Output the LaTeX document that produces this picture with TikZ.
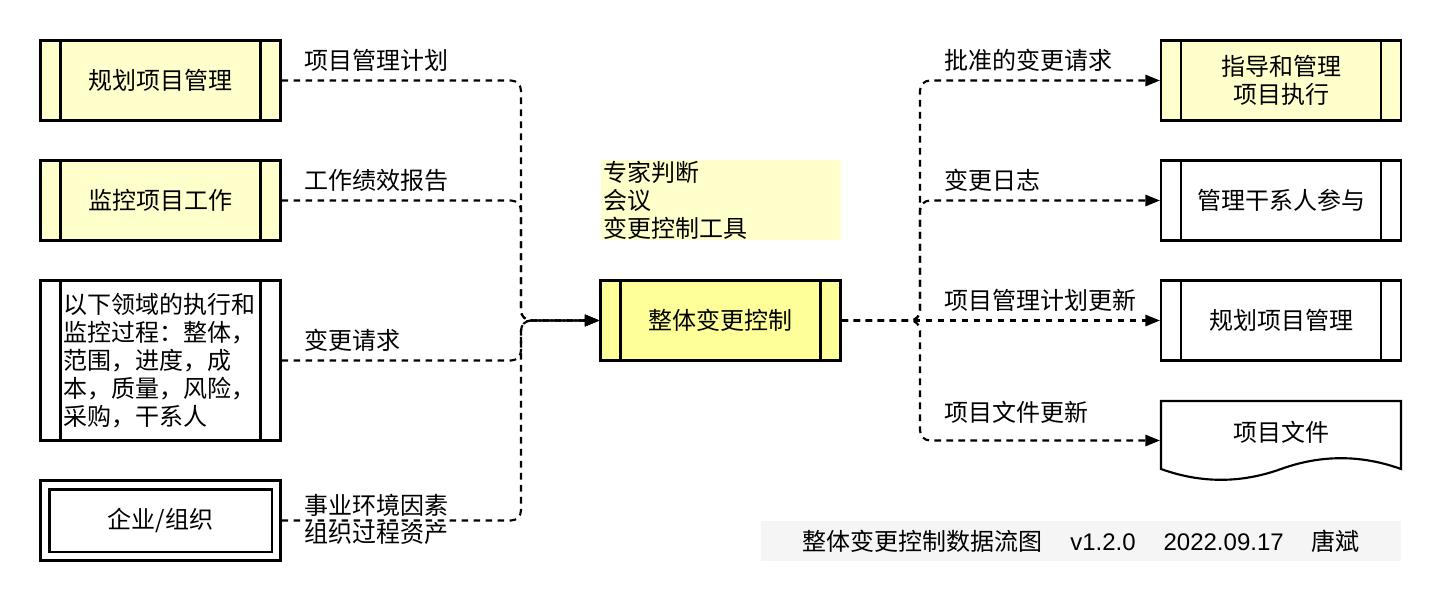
\documentclass[tikz,border=0pt]{standalone}
\usepackage{fontspec}
\setmainfont{Noto Sans CJK SC}
\newfontfamily\lat{Liberation Sans}
\usetikzlibrary{arrows.meta,calc}
\definecolor{lightyel}{HTML}{FFFFCC}
\definecolor{yel}{HTML}{FFFF99}
\definecolor{footgray}{HTML}{F5F5F5}
\tikzset{
  txt/.style={font=\fontsize{18pt}{21pt}\selectfont},
  base/.style={txt, draw, line width=1.6pt, minimum width=180pt, minimum height=60pt, inner sep=0pt, align=center},
  proc/.style={base, path picture={
      \draw[line width=1.6pt]
        ([xshift=15pt]path picture bounding box.north west) -- ([xshift=15pt]path picture bounding box.south west)
        ([xshift=-15pt]path picture bounding box.north east) -- ([xshift=-15pt]path picture bounding box.south east);}},
  flow/.style={line width=1.6pt, dash pattern=on 5pt off 4pt, rounded corners=7.5pt, -{Triangle[length=11pt,width=8.5pt]}},
  lbl/.style={txt, anchor=west, inner sep=0pt, align=left}
}
\begin{document}
\begin{tikzpicture}[x=0.75pt,y=-0.75pt]
\useasboundingbox (0,0) rectangle (1442,602);

% left boxes
\node[proc, fill=lightyel] (p1) at (160.5,80.5) {规划项目管理};
\node[proc, fill=lightyel] (p2) at (160.5,200.5) {监控项目工作};
\node[proc, minimum height=120pt, text width=146.25pt, align=left] (p3) at (160.5,360.5)
  {以下领域的执行和\\监控过程：整体，\\范围，进度，成\\本，质量，风险，\\采购，干系人};
\node[base] (ent) at (160.5,520.5) {企业/组织};
\draw[line width=1.6pt] ($(ent.south west)+(10,-10)$) rectangle ($(ent.north east)+(-10,10)$);

% tools and central process
\node[txt, fill=lightyel, minimum width=180pt, minimum height=60pt, inner xsep=2.25pt, inner ysep=0pt,
      text width=175.5pt, align=left] (tools) at (720.5,200.5) {专家判断\\会议\\变更控制工具};
\node[proc, fill=yel] (c) at (720.5,320.5) {整体变更控制};

% right boxes
\node[proc, fill=lightyel] (r1) at (1281,80.5) {指导和管理\\项目执行};
\node[proc] (r2) at (1281,200.5) {管理干系人参与};
\node[proc] (r3) at (1281,320.5) {规划项目管理};
\node[base, draw=none] (doc) at (1281,440.5) {\raisebox{13pt}{项目文件}};
\draw[line width=1.6pt] (1161,401) -- (1401,401) -- (1401,469)
  .. controls (1361,454.6) and (1321,454.6) .. (1281,469)
  .. controls (1241,483.4) and (1201,483.4) .. (1161,469) -- cycle;

% junctions
\coordinate (jl) at (521,320.5);
\coordinate (jr) at (920,320.5);

% left connectors
\draw[flow] (p1.east) -| (jl) -- (c.west);
\draw[flow] (p2.east) -| (jl) -- (c.west);
\draw[flow] (p3.east) -| (jl) -- (c.west);
\draw[flow] (ent.east) -| (jl) -- (c.west);

% right connectors
\draw[flow] (c.east) -- (jr) |- (r1.west);
\draw[flow] (c.east) -- (jr) |- (r2.west);
\draw[flow] (c.east) -- (r3.west);
\draw[flow] (c.east) -- (jr) |- (doc.west);

% labels
\node[lbl] (l1) at (304,60) {项目管理计划};
\node[lbl] (l2) at (304,180) {工作绩效报告};
\node[lbl] (l3) at (304,340) {变更请求};
\node[lbl] (l4) at (304,519) {事业环境因素\\组织过程资产};
\node[lbl] (l5) at (944,60) {批准的变更请求};
\node[lbl] (l6) at (944,180) {变更日志};
\node[lbl] (l7) at (944,300) {项目管理计划更新};
\node[lbl] (l8) at (944,412) {项目文件更新};

% footer
\node[txt, fill=footgray, minimum width=480pt, minimum height=30pt, inner sep=0pt] (foot) at (1081,541)
  {整体变更控制数据流图\hspace{21pt}{\lat v1.2.0\hspace{21pt}2022.09.17}\hspace{21pt}唐斌};
\end{tikzpicture}
\end{document}
